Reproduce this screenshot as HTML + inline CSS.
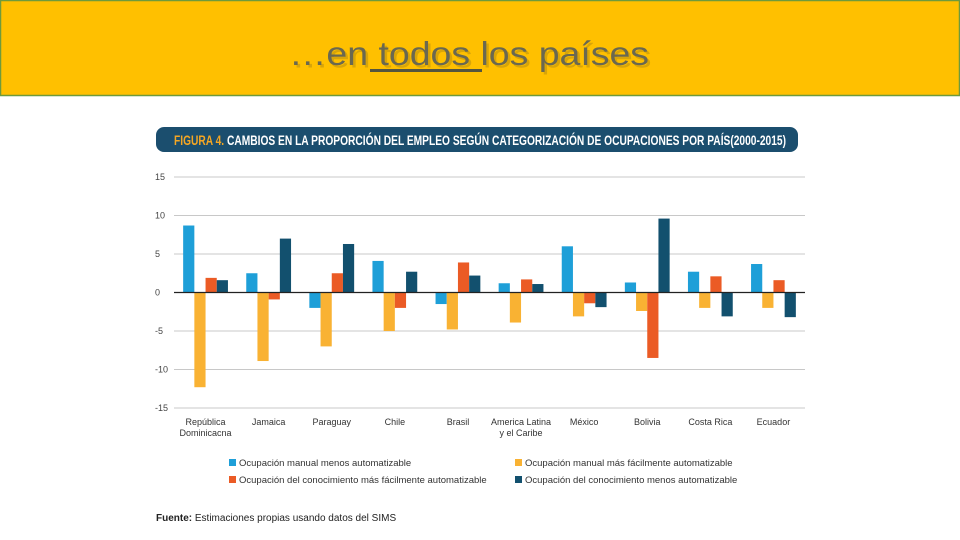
<!DOCTYPE html>
<html><head><meta charset="utf-8">
<style>
html,body{margin:0;padding:0;background:#fff;}
svg{display:block;font-family:"Liberation Sans",sans-serif;}
</style></head>
<body>
<svg id="chart" width="960" height="540" viewBox="0 0 960 540">
  <rect x="0.5" y="0.5" width="959" height="95" fill="#ffc000" stroke="#6e9a3c" stroke-width="1.5"/>
  <g>
    <text x="290" y="66" font-size="33" fill="#3f3f30" opacity="0.2" transform="translate(1.5,1.5)" textLength="360" lengthAdjust="spacingAndGlyphs">…en todos los países</text>
    <text x="289" y="65" font-size="33" fill="#6a6850" textLength="360" lengthAdjust="spacingAndGlyphs">…en todos los países</text>
    <rect x="370" y="69" width="112" height="3" fill="#55553f"/>
  </g>
  <rect x="156" y="127" width="642" height="25" rx="8" fill="#1b4e6e"/>
  <text x="174" y="145" font-size="13.5" font-weight="bold" fill="#fff" textLength="612" lengthAdjust="spacingAndGlyphs"><tspan fill="#f5a623">FIGURA 4.</tspan> CAMBIOS EN LA PROPORCIÓN DEL EMPLEO SEGÚN CATEGORIZACIÓN DE OCUPACIONES POR PAÍS(2000-2015)</text>
  <g id="grid"></g>
  <g id="bars"></g>
  <g id="xlabels"></g>
  <g font-size="9.5" fill="#333">
    <rect x="229" y="459" width="7" height="7" fill="#1e9fd8"/>
    <text x="239" y="466">Ocupación manual menos automatizable</text>
    <rect x="515" y="459" width="7" height="7" fill="#f9b233"/>
    <text x="525" y="466">Ocupación manual más fácilmente automatizable</text>
    <rect x="229" y="476" width="7" height="7" fill="#eb5b25"/>
    <text x="239" y="483">Ocupación del conocimiento más fácilmente automatizable</text>
    <rect x="515" y="476" width="7" height="7" fill="#12506e"/>
    <text x="525" y="483">Ocupación del conocimiento menos automatizable</text>
  </g>
  <text x="156" y="521" font-size="10" fill="#222"><tspan font-weight="bold">Fuente:</tspan> Estimaciones propias usando datos del SIMS</text>
</svg>
<script>
const categories = [["República","Dominicacna"],["Jamaica"],["Paraguay"],["Chile"],["Brasil"],["America Latina","y el Caribe"],["México"],["Bolivia"],["Costa Rica"],["Ecuador"]];
const manualMenos = [8.7, 2.5, -2.0, 4.1, -1.5, 1.2, 6.0, 1.3, 2.7, 3.7];
const manualMas = [-12.3, -8.9, -7.0, -5.0, -4.8, -3.9, -3.1, -2.4, -2.0, -2.0];
const conocMas = [1.9, -0.9, 2.5, -2.0, 3.9, 1.7, -1.4, -8.5, 2.1, 1.6];
const conocMenos = [1.6, 7.0, 6.3, 2.7, 2.2, 1.1, -1.9, 9.6, -3.1, -3.2];
const yTicks = [15, 10, 5, 0, -5, -10, -15];

const NS = "http://www.w3.org/2000/svg";
const x0 = 174, x1 = 805, yTop = 177, yBot = 408, vMax = 15, vMin = -15;
const yScale = v => yTop + (vMax - v) / (vMax - vMin) * (yBot - yTop);
const groupW = (x1 - x0) / categories.length;
const barW = 11.2;
const xBar = (i, s) => x0 + i * groupW + (groupW - 4 * barW) / 2 + s * barW;
function mk(tag, attrs, parent) {
  const e = document.createElementNS(NS, tag);
  for (const k in attrs) e.setAttribute(k, attrs[k]);
  parent.appendChild(e);
  return e;
}
const grid = document.getElementById('grid');
yTicks.forEach(t => {
  const l = mk('line', {x1: x0, x2: x1, y1: yScale(t), y2: yScale(t), stroke: '#c8c8c8', 'stroke-width': 1}, grid);
  
  
  const tx = mk('text', {x: 155, y: yScale(t) + 3, 'font-size': 9, fill: '#444'}, grid);
  tx.textContent = t;
  
  
});
const series = [manualMenos, manualMas, conocMas, conocMenos];
const colors = ['#1e9fd8', '#f9b233', '#eb5b25', '#12506e'];
const names = ['manual-menos', 'manual-mas', 'conocimiento-mas', 'conocimiento-menos'];
const bars = document.getElementById('bars');
series.forEach((arr, s) => {
  arr.forEach((v, i) => {
    const y = Math.min(yScale(v), yScale(0));
    const h = Math.abs(yScale(v) - yScale(0));
    const r = mk('rect', {x: xBar(i, s), y: y, width: barW, height: h, fill: colors[s]}, bars);
    
    
  });
});
const zl = mk('line', {x1: x0, x2: x1, y1: yScale(0), y2: yScale(0), stroke: '#222', 'stroke-width': 1.2}, bars);


const xl = document.getElementById('xlabels');
categories.forEach((c, i) => {
  const cx = x0 + (i + 0.5) * groupW;
  c.forEach((line, j) => {
    const t = mk('text', {x: cx, y: 425 + j * 11, 'font-size': 9, fill: '#333', 'text-anchor': 'middle'}, xl);
    t.textContent = line;
    
    
  });
});
</script>
</body></html>
